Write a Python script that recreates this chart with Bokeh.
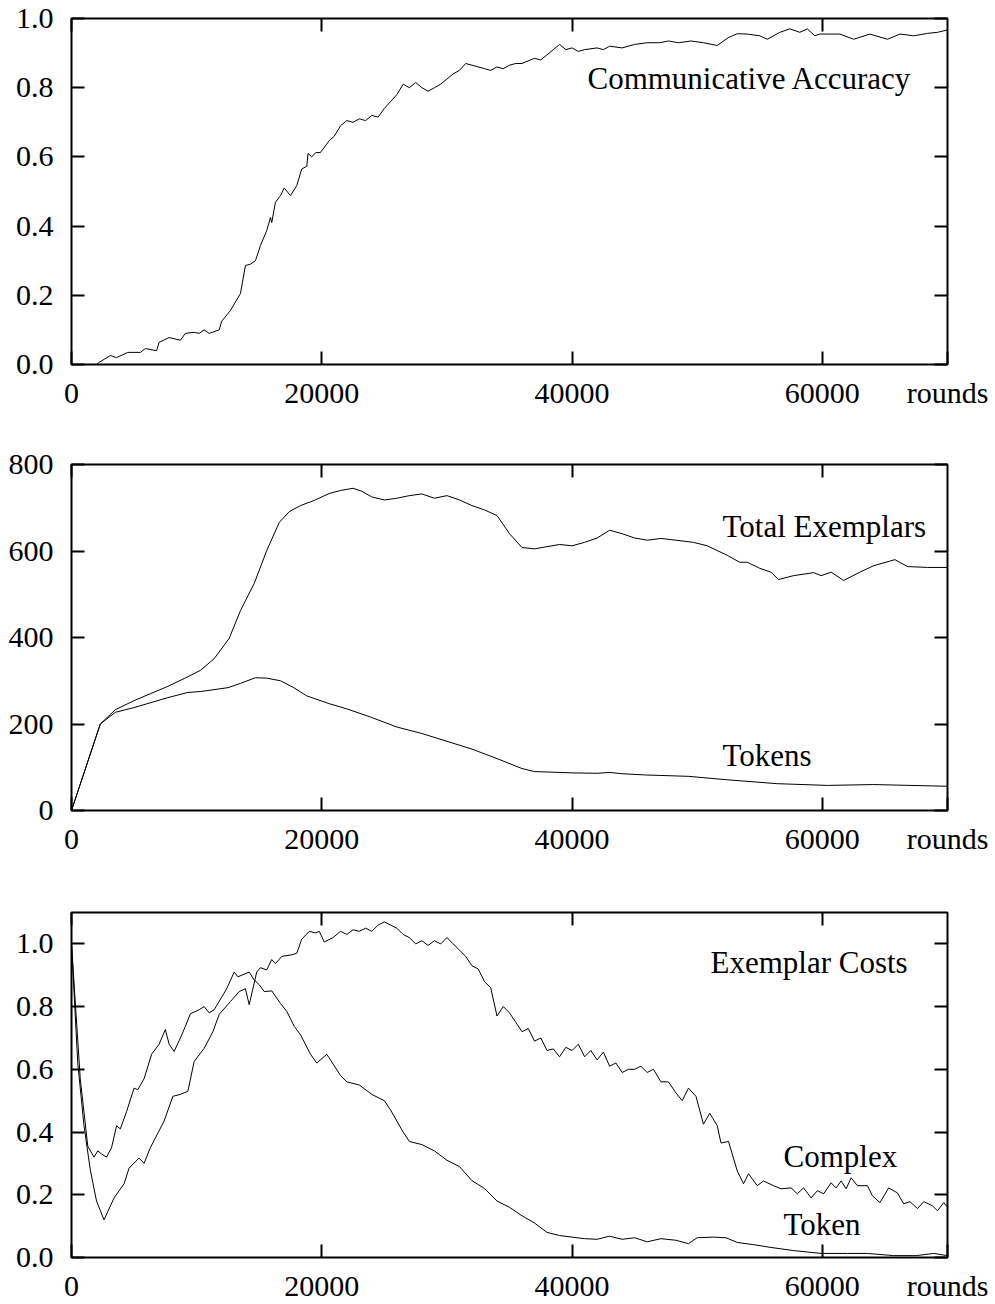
from bokeh.plotting import figure
from bokeh.models import Range1d, LinearAxis, FixedTicker, PrintfTickFormatter, Label
from bokeh.layouts import column
from bokeh.embed import file_html
from bokeh.resources import INLINE

FONT = "Liberation Serif"

# ---------------- data ----------------
x_ticks = [0, 20000, 40000, 60000]
x_label = "rounds"
x_end = 70000

acc_x = [2000, 2200, 3100, 3600, 4500, 5500, 5900, 6800, 7000, 7800, 8700, 9100, 9800, 10200,
         10600, 11000, 11800, 12000, 12700, 13500, 13900, 14300, 14700, 15100, 15600, 15900,
         16000, 16300, 16700, 17000, 17500, 18000, 18400, 18800, 18900, 19200, 19500, 19900,
         20600, 21000, 21500, 22000, 22500, 23000, 23500, 24000, 24500, 25000, 25500, 26000,
         26500, 27000, 27500, 28000, 28500, 29000, 29500, 30000, 30500, 31000, 31500, 32000,
         32500, 33000, 33500, 34000, 34500, 35000, 35500, 36000, 37000, 37500, 38000, 38500,
         39000, 39500, 40000, 40500, 41000, 42000, 42500, 43000, 44000, 45000, 46000, 47000,
         47700, 48500, 49500, 50500, 51600, 52500, 53200, 54000, 55000, 55600, 56600, 57400,
         58200, 58800, 59400, 59800, 60600, 61400, 62500, 63800, 65200, 66200, 67300, 68400,
         69200, 70000]
acc_y = [0.0, 0.006, 0.026, 0.02, 0.035, 0.035, 0.046, 0.04, 0.064, 0.078, 0.07, 0.09, 0.093, 0.09,
         0.10, 0.09, 0.10, 0.125, 0.156, 0.205, 0.286, 0.29, 0.30, 0.344, 0.387, 0.425,
         0.41, 0.469, 0.488, 0.51, 0.488, 0.517, 0.565, 0.573, 0.61, 0.60, 0.612, 0.613,
         0.647, 0.66, 0.69, 0.705, 0.70, 0.71, 0.705, 0.72, 0.715, 0.74, 0.76, 0.78,
         0.81, 0.80, 0.815, 0.80, 0.79, 0.80, 0.81, 0.825, 0.84, 0.85, 0.87, 0.865,
         0.86, 0.855, 0.85, 0.86, 0.855, 0.865, 0.87, 0.87, 0.885, 0.88, 0.895, 0.91,
         0.925, 0.91, 0.915, 0.905, 0.91, 0.915, 0.91, 0.92, 0.915, 0.925, 0.93, 0.93,
         0.935, 0.93, 0.935, 0.93, 0.922, 0.945, 0.956, 0.955, 0.95, 0.94, 0.96, 0.97,
         0.96, 0.97, 0.95, 0.955, 0.955, 0.955, 0.94, 0.955, 0.94, 0.955, 0.95, 0.957,
         0.96, 0.967]

tot_x = [0, 2300, 3500, 5000, 6300, 7700, 9000, 10300, 11400, 12600, 13500, 14600, 15600, 16600,
         17400, 18300, 19400, 20600, 21500, 22500, 23200, 24000, 25000, 26000, 27000, 28000,
         29000, 30000, 31000, 32000, 33000, 34000, 35000, 36000, 37000, 38000, 39000, 40000,
         41000, 42000, 43000, 44000, 45000, 46000, 47100, 48300, 49700, 50800, 52400, 53400,
         54000, 55000, 55900, 56500, 57700, 59300, 59900, 60700, 61700, 63000, 64100, 65800,
         66800, 68400, 70000]
tot_y = [0, 200, 233, 254, 270, 287, 305, 324, 351, 398, 462, 525, 601, 666,
         691, 705, 717, 733, 740, 745, 738, 725, 718, 722, 728, 732,
         722, 728, 718, 705, 695, 682, 640, 608, 605, 610, 615, 612,
         620, 630, 648, 640, 630, 625, 629, 625, 620, 612, 590, 574,
         574, 560, 551, 534, 543, 550, 543, 551, 532, 551, 566, 580,
         564, 562, 562]

tok_x = [0, 2300, 3500, 5000, 7700, 9300, 10300, 12500, 13500, 14700, 15600, 16700, 17700, 18800,
         20600, 22000, 24000, 26000, 28000, 30000, 32000, 34000, 36000, 37000, 38000, 40000,
         42000, 43000, 44000, 46000, 47100, 49300, 52400, 56400, 60400, 64100, 70000]
tok_y = [0, 200, 227, 238, 261, 273, 275, 284, 294, 307, 306, 300, 285, 265,
         247, 235, 215, 193, 178, 160, 142, 120, 97, 90, 89, 87,
         86, 88, 85, 82, 81, 79, 71, 62, 58, 60, 56]

token_cost_x = [0, 700, 1300, 1800, 2100, 2400, 2800, 3200, 3600, 3900, 4400, 5000, 5300, 5800,
                6400, 7000, 7500, 7800, 8200, 8700, 9100, 9500, 10200, 10600, 11000, 11400,
                12000, 12400, 13000, 13300, 14200, 14600, 15000, 15400, 16000, 16700, 17200,
                17800, 18300, 19100, 19600, 20400, 20900, 21500, 22000, 23000, 24000, 25000,
                25500, 26000, 26500, 27000, 28000, 29000, 30000, 31000, 32000, 33000, 34000,
                35000, 36000, 37000, 38000, 39000, 40000, 41000, 42000, 43000, 44000, 45000,
                46000, 47100, 48300, 49300, 50000, 51300, 52300, 53200, 54500, 55900, 57700,
                59900, 62000, 63600, 65700, 67500, 68900, 70000]
token_cost_y = [1.0, 0.57, 0.355, 0.32, 0.34, 0.33, 0.32, 0.35, 0.42, 0.41, 0.465, 0.54, 0.535, 0.57,
                0.648, 0.68, 0.727, 0.68, 0.657, 0.70, 0.737, 0.777, 0.79, 0.80, 0.78, 0.79,
                0.83, 0.857, 0.91, 0.895, 0.91, 0.885, 0.87, 0.848, 0.85, 0.81, 0.785,
                0.737, 0.71, 0.648, 0.62, 0.648, 0.617, 0.58, 0.56, 0.55, 0.52, 0.50,
                0.47, 0.435, 0.40, 0.37, 0.36, 0.34, 0.31, 0.29, 0.245, 0.22, 0.18,
                0.16, 0.133, 0.11, 0.08, 0.07, 0.065, 0.06, 0.058, 0.068, 0.058, 0.063,
                0.05, 0.06, 0.055, 0.044, 0.063, 0.065, 0.063, 0.048, 0.041, 0.032, 0.022,
                0.013, 0.013, 0.013, 0.006, 0.006, 0.013, 0.006]

complex_cost_x = [0, 500, 1000, 1500, 2000, 2600, 3400, 4200, 4600, 5400, 5800, 6300, 7400, 8100,
                  8700, 9300, 9800, 10600, 11300, 11800, 12700, 13400, 13900, 14200, 14800, 15100,
                  15600, 16000, 16300, 16800, 17600, 18000, 18400, 19000, 19500, 19800, 20200,
                  20900, 21500, 22000, 22500, 23000, 23500, 24000, 24500, 25000, 25500, 26000,
                  26500, 27000, 27500, 28000, 28500, 29000, 29500, 30000, 30500, 31000, 31500,
                  32000, 32500, 33000, 33500, 34000, 34500, 35000, 35500, 36000, 36500, 37000,
                  37500, 38000, 38500, 39000, 39500, 40000, 40500, 41000, 41500, 42000, 42500,
                  43000, 43500, 44000, 44500, 45000, 45500, 46000, 46500, 47100, 47700, 48300,
                  48800, 49300, 49900, 50500, 51000, 51600, 51900, 52500, 53200, 53700, 54100,
                  54800, 55300, 56100, 56700, 57500, 58000, 58500, 59100, 59600, 60100, 60700,
                  61100, 61500, 61900, 62300, 62800, 63600, 64000, 64600, 65300, 66000, 66500,
                  67000, 67600, 68100, 68800, 69200, 69700, 70000]
complex_cost_y = [1.0, 0.62, 0.42, 0.28, 0.18, 0.12, 0.19, 0.235, 0.285, 0.317, 0.30, 0.35, 0.435, 0.514,
                  0.52, 0.53, 0.625, 0.667, 0.72, 0.775, 0.816, 0.848, 0.857, 0.806, 0.91, 0.924,
                  0.917, 0.95, 0.937, 0.96, 0.965, 0.97, 1.015, 1.04, 1.035, 1.04, 1.006,
                  1.02, 1.04, 1.03, 1.045, 1.04, 1.05, 1.04, 1.06, 1.07, 1.06, 1.05,
                  1.03, 1.02, 1.0, 1.01, 0.995, 1.01, 1.0, 1.02, 1.0, 0.98, 0.96,
                  0.93, 0.92, 0.88, 0.86, 0.77, 0.80, 0.78, 0.75, 0.72, 0.73, 0.69,
                  0.70, 0.66, 0.665, 0.64, 0.67, 0.66, 0.68, 0.64, 0.66, 0.63, 0.655,
                  0.61, 0.62, 0.59, 0.60, 0.60, 0.61, 0.59, 0.60, 0.56, 0.56, 0.525,
                  0.50, 0.54, 0.514, 0.425, 0.46, 0.42, 0.365, 0.37, 0.276, 0.235, 0.267,
                  0.229, 0.244, 0.229, 0.219, 0.222, 0.203, 0.222, 0.19, 0.213, 0.203, 0.238,
                  0.222, 0.244, 0.219, 0.254, 0.229, 0.229, 0.197, 0.175, 0.222, 0.206, 0.171,
                  0.178, 0.156, 0.178, 0.165, 0.149, 0.175, 0.16]

acc_ticks = [0.0, 0.2, 0.4, 0.6, 0.8, 1.0]
ex_ticks = [0, 200, 400, 600, 800]
cost_ticks = [0.0, 0.2, 0.4, 0.6, 0.8, 1.0]


# ---------------- helpers ----------------
def style_axis(ax, labels=True, fmt="%d", standoff=12):
    ax.axis_line_color = None
    ax.major_tick_in = 13
    ax.major_tick_out = 0
    ax.major_tick_line_width = 2
    ax.major_tick_line_color = "black"
    ax.minor_tick_line_color = None
    ax.formatter = PrintfTickFormatter(format=fmt)
    if labels:
        ax.major_label_text_font = FONT
        ax.major_label_text_font_size = "30px"
        ax.major_label_text_color = "black"
        ax.major_label_standoff = standoff
    else:
        ax.major_label_text_font_size = "0px"
        ax.major_label_text_color = None
        ax.major_label_standoff = 0


def make_fig(height, ymax, yticks, yfmt, top, bottom):
    p = figure(width=995, height=height, x_range=Range1d(0, x_end), y_range=Range1d(0, ymax),
               output_backend="svg", toolbar_location=None,
               x_axis_location=None, y_axis_location=None,
               min_border_left=71, min_border_right=48,
               min_border_top=top, min_border_bottom=bottom)
    p.xgrid.visible = False
    p.ygrid.visible = False
    p.outline_line_color = "black"
    p.outline_line_width = 2
    p.background_fill_color = "white"
    p.border_fill_color = "white"

    # bottom axis: the last tick sits on the right frame edge and carries the "rounds" label
    xb = LinearAxis(ticker=FixedTicker(ticks=x_ticks + [x_end]))
    style_axis(xb, True, "%d", 11)
    xb.major_label_overrides = {x_end: x_label}
    p.add_layout(xb, "below")
    xt = LinearAxis(ticker=FixedTicker(ticks=x_ticks))
    style_axis(xt, False)
    p.add_layout(xt, "above")
    yl = LinearAxis(ticker=FixedTicker(ticks=yticks))
    style_axis(yl, True, yfmt, 18)
    p.add_layout(yl, "left")
    yr = LinearAxis(ticker=FixedTicker(ticks=yticks))
    style_axis(yr, False)
    p.add_layout(yr, "right")
    return p


def add_text(p, x, y, txt):
    p.add_layout(Label(x=x, y=y, text=txt, text_font=FONT, text_font_size="31px",
                       text_baseline="alphabetic", text_align="left", text_color="black"))


# ---------------- panel 1 ----------------
p1 = make_fig(414, 1.0, acc_ticks, "%.1f", 18, 50)
p1.line(acc_x, acc_y, line_color="black", line_width=1)
add_text(p1, 41230, 0.826, "Communicative Accuracy")

# ---------------- panel 2 ----------------
p2 = make_fig(446, 800, ex_ticks, "%d", 50, 50)
p2.line(tot_x, tot_y, line_color="black", line_width=1)
p2.line(tok_x, tok_y, line_color="black", line_width=1)
add_text(p2, 52020, 656, "Total Exemplars")
add_text(p2, 52020, 127, "Tokens")

# ---------------- panel 3 ----------------
p3 = make_fig(444, 1.1, cost_ticks, "%.1f", 52, 47)
p3.line(token_cost_x, token_cost_y, line_color="black", line_width=1)
p3.line(complex_cost_x, complex_cost_y, line_color="black", line_width=1)
add_text(p3, 51063, 0.940, "Exemplar Costs")
add_text(p3, 56898, 0.322, "Complex")
add_text(p3, 56898, 0.106, "Token")

layout = column(p1, p2, p3, spacing=0)
open("out.html", "w").write(file_html(layout, INLINE))
